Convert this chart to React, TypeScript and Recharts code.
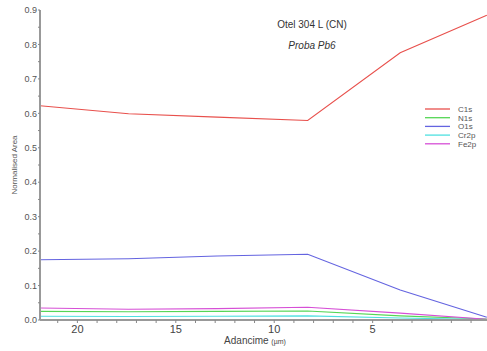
import React from "react";
import { LineChart, Line, XAxis, YAxis } from "recharts";

const depths = [21.9, 17.4, 12.9, 8.3, 3.6, -0.8];
const c1s = [0.622, 0.599, 0.589, 0.579, 0.776, 0.885];
const n1s = [0.025, 0.024, 0.025, 0.026, 0.012, 0.003];
const o1s = [0.175, 0.178, 0.186, 0.191, 0.087, 0.008];
const cr2p = [0.011, 0.01, 0.011, 0.012, 0.006, 0.001];
const fe2p = [0.035, 0.031, 0.033, 0.037, 0.02, 0.002];

const xTicks = [0, 1, 2, 3, 4, 5, 6, 7, 8, 9, 10, 11, 12, 13, 14, 15, 16, 17, 18, 19, 20, 21];
const xLabels = [5, 10, 15, 20];
const yTicks = [0, 0.05, 0.1, 0.15, 0.2, 0.25, 0.3, 0.35, 0.4, 0.45, 0.5, 0.55, 0.6, 0.65, 0.7, 0.75, 0.8, 0.85, 0.9];

const seriesDefs = [
  { key: "C1s", values: c1s, color: "#e8504c" },
  { key: "N1s", values: n1s, color: "#55d655" },
  { key: "O1s", values: o1s, color: "#6464e0" },
  { key: "Cr2p", values: cr2p, color: "#4fe0e0" },
  { key: "Fe2p", values: fe2p, color: "#d64fd6" },
];

const data = depths.map((d, i) => {
  const row: any = { depth: d };
  seriesDefs.forEach((s) => (row[s.key] = s.values[i]));
  return row;
});

const LegendBox = () => (
  <svg style={{ position: "absolute", left: 425, top: 104 }} width={60} height={46}>
    {seriesDefs.map((s, i) => (
      <g key={s.key}>
        <line x1={0} x2={25} y1={5 + i * 8.7} y2={5 + i * 8.7} stroke={s.color} strokeWidth={1.3} />
        <text x={33} y={5 + i * 8.7} dy="0.35em" fontSize={8} fill="#555">{s.key}</text>
      </g>
    ))}
  </svg>
);

export default function App() {
  return (
    <div style={{ position: "absolute", left: 0, top: 0, width: 487, height: 351, background: "#fff", fontFamily: "Liberation Sans, Arial, sans-serif" }}>
      <LineChart width={487} height={351} data={data} margin={{ top: 10, right: 0, bottom: 0, left: 0 }}>
        <XAxis
          dataKey="depth"
          type="number"
          domain={[-0.81, 21.9]}
          reversed
          ticks={xTicks}
          interval={0}
          allowDataOverflow
          tickFormatter={(v: number) => (xLabels.includes(v) ? String(v) : "")}
          tick={{ fontSize: 11, fill: "#444" }}
          tickSize={3}
          tickLine={{ stroke: "#888" }}
          axisLine={{ stroke: "#999", strokeWidth: 2 }}
          height={31}
        />
        <YAxis
          type="number"
          domain={[0, 0.9]}
          ticks={yTicks}
          interval={0}
          allowDataOverflow
          tickFormatter={(v: number) => (Math.abs(Math.round(v * 10) - v * 10) < 1e-6 ? v.toFixed(1) : "")}
          tick={{ fontSize: 9, fill: "#555" }}
          tickSize={2}
          tickMargin={1}
          tickLine={{ stroke: "#888" }}
          axisLine={{ stroke: "#999", strokeWidth: 2 }}
          width={40}
          label={{ value: "Normalised Area", angle: -90, position: "insideLeft", offset: 14, style: { fontSize: 8, fill: "#555", textAnchor: "middle" } }}
        />
        {seriesDefs.map((s) => (
          <Line
            key={s.key}
            dataKey={s.key}
            stroke={s.color}
            strokeWidth={1.1}
            dot={false}
            isAnimationActive={false}
            type="linear"
          />
        ))}
      </LineChart>
      <LegendBox />
      <div style={{ position: "absolute", left: 262, top: 19, width: 100, textAlign: "center", fontSize: 10, color: "#333" }}>Otel 304 L (CN)</div>
      <div style={{ position: "absolute", left: 262, top: 40, width: 100, textAlign: "center", fontSize: 10, color: "#333", fontStyle: "italic" }}>Proba Pb6</div>
      <div style={{ position: "absolute", left: 205, top: 335, width: 100, textAlign: "center", fontSize: 10, lineHeight: "12px", color: "#444" }}>
        Adancime <span style={{ fontSize: 7 }}>(µm)</span>
      </div>
    </div>
  );
}
